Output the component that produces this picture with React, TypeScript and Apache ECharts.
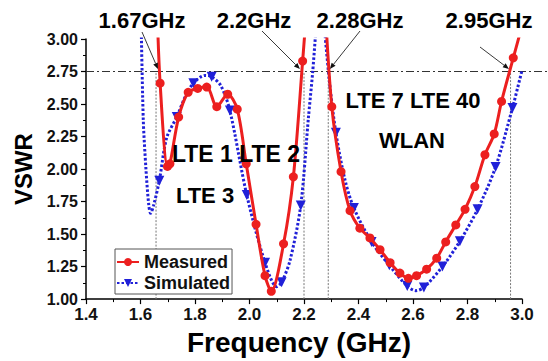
import { useEffect, useRef } from "react";
import * as echarts from "echarts";

const FONT = "'Liberation Sans', Arial, Helvetica, sans-serif";

// Frequency axis (GHz) and VSWR axis
const xMin = 1.4;
const xMax = 3.0;
const xInterval = 0.2;
const yMin = 1.0;
const yMax = 3.0;
const yInterval = 0.25;

// Measured VSWR (null = curve leaves the plot above 3.0)
const measuredFreq = [
  1.660, 1.672, 1.699, 1.708, 1.740, 1.775, 1.810, 1.843, 1.880, 1.920, 1.955, 1.988,
  2.024, 2.057, 2.080, 2.125, 2.161, 2.195, 2.212, 2.240, 2.276, 2.302, 2.336, 2.369,
  2.405, 2.442, 2.479, 2.516, 2.552, 2.583, 2.613, 2.650, 2.687, 2.720, 2.757, 2.791,
  2.827, 2.864, 2.898, 2.925, 2.968, 3.000,
];
const measuredVswr: (number | null)[] = [
  3.30, 2.66, 2.02, 2.04, 2.40, 2.59, 2.62, 2.63, 2.48, 2.575, 2.46, 2.04,
  1.575, 1.18, 1.06, 1.425, 1.94, 2.83, 3.30, null, 3.30, 2.48, 1.98, 1.68,
  1.545, 1.47, 1.38, 1.28, 1.20, 1.16, 1.18, 1.23, 1.315, 1.44, 1.57, 1.69,
  1.865, 2.11, 2.27, 2.52, 2.855, 3.10,
];

// Simulated VSWR; simulatedMarker = 1 where a triangle marker is drawn
const simulatedFreq = [
  1.600, 1.610, 1.620, 1.630, 1.637, 1.648, 1.669, 1.696, 1.733, 1.765, 1.794, 1.837,
  1.861, 1.895, 1.928, 1.990, 2.057, 2.100, 2.118, 2.149, 2.188, 2.216, 2.232, 2.248,
  2.255, 2.266, 2.293, 2.317, 2.350, 2.383, 2.448, 2.513, 2.579, 2.610, 2.640, 2.708,
  2.772, 2.837, 2.903, 2.965, 3.000,
];
const simulatedVswr: (number | null)[] = [
  3.40, 2.39, 2.00, 1.73, 1.66, 1.72, 1.91, 2.24, 2.40, 2.56, 2.66, 2.72,
  2.71, 2.64, 2.45, 1.80, 1.28, 1.095, 1.13, 1.30, 1.72, 2.39, 2.75, 3.20,
  null, 3.30, 2.68, 2.28, 1.92, 1.70, 1.44, 1.26, 1.10, 1.065, 1.09, 1.25,
  1.445, 1.69, 2.015, 2.47, 2.76,
];
const simulatedMarker = [
  0, 0, 0, 0, 0, 0, 1, 0, 1, 0, 1, 0,
  1, 0, 1, 1, 1, 0, 1, 0, 1, 0, 0, 0,
  0, 0, 0, 1, 0, 1, 1, 1, 1, 0, 1, 1,
  1, 1, 1, 1, 0,
];

// Reference threshold and band edges
const threshold = 2.75;
const bandEdges = [1.657, 2.2, 2.289, 2.958];
const edgeLabels = ["1.67GHz", "2.2GHz", "2.28GHz", "2.95GHz"];
const arrowTipFreq = [1.664, 2.185, 2.295, 2.952];
const bandLabels = ["LTE 1 LTE 2", "LTE 3", "LTE 7 LTE 40", "WLAN"];

const RED = "#ec1f1f";
const BLUE = "#2020d8";

export default function App() {
  const ref = useRef<HTMLDivElement>(null);

  useEffect(() => {
    document.body.style.margin = "0";
    if (!ref.current) return;
    const chart = echarts.init(ref.current, null, { renderer: "svg" });

    const measuredData = measuredFreq.map((f, i) => [f, measuredVswr[i]]);
    const simulatedData = simulatedFreq.map((f, i) => ({
      value: [f, simulatedVswr[i]],
      symbol: simulatedMarker[i] ? "triangle" : "none",
    }));

    const axisLabelStyle = {
      fontFamily: FONT,
      fontWeight: "bold" as const,
      color: "#111",
    };

    chart.setOption({
      animation: false,
      backgroundColor: "#fff",
      grid: { left: 86, right: 26, top: 39, bottom: 55, containLabel: false },
      legend: {
        data: ["Measured", "Simulated"],
        orient: "vertical",
        left: 115,
        top: 249,
        itemWidth: 22,
        itemHeight: 10,
        itemGap: 3,
        padding: [4, 2, 2, 1],
        borderColor: "#555",
        borderWidth: 1,
        backgroundColor: "#fff",
        textStyle: { ...axisLabelStyle, fontSize: 18 },
      },
      xAxis: {
        type: "value",
        min: xMin,
        max: xMax,
        interval: xInterval,
        name: "Frequency (GHz)",
        nameLocation: "middle",
        nameGap: 20,
        nameTextStyle: { ...axisLabelStyle, fontSize: 28, color: "#000", padding: [0, 10, 0, 0] },
        axisLine: { show: true, lineStyle: { color: "#000", width: 1.5 } },
        axisTick: { show: true, inside: false, length: 5, lineStyle: { color: "#000", width: 1.2 } },
        minorTick: { show: true, splitNumber: 2, length: 3, lineStyle: { color: "#000", width: 1 } },
        splitLine: { show: false },
        axisLabel: {
          ...axisLabelStyle,
          fontSize: 17,
          margin: 7,
          formatter: (v: number) => v.toFixed(1),
        },
      },
      yAxis: {
        type: "value",
        min: yMin,
        max: yMax,
        interval: yInterval,
        name: "VSWR",
        nameLocation: "middle",
        nameGap: 50,
        nameTextStyle: { ...axisLabelStyle, fontSize: 24, color: "#000" },
        axisLine: { show: true, lineStyle: { color: "#000", width: 1.5 } },
        axisTick: { show: true, inside: false, length: 5, lineStyle: { color: "#000", width: 1.2 } },
        minorTick: { show: true, splitNumber: 2, length: 3, lineStyle: { color: "#000", width: 1 } },
        splitLine: { show: false },
        axisLabel: {
          ...axisLabelStyle,
          fontSize: 16,
          margin: 8,
          formatter: (v: number) => v.toFixed(2),
        },
      },
      series: [
        {
          name: "Measured",
          type: "line",
          data: measuredData,
          smooth: 0.3,
          connectNulls: false,
          clip: true,
          symbol: "circle",
          symbolSize: 9,
          showSymbol: true,
          itemStyle: { color: RED },
          lineStyle: { color: RED, width: 3 },
          z: 4,
        },
        {
          name: "Simulated",
          type: "line",
          data: simulatedData,
          smooth: 0.3,
          connectNulls: false,
          clip: true,
          symbol: "triangle",
          symbolRotate: 180,
          symbolSize: 10,
          showSymbol: true,
          itemStyle: { color: BLUE },
          lineStyle: { color: BLUE, width: 3, type: [2.5, 2] },
          z: 3,
        },
      ],
    });

    const p = (f: number, v: number) =>
      chart.convertToPixel({ gridIndex: 0 }, [f, v]) as number[];

    const graphics: any[] = [];

    // vertical band edge lines
    bandEdges.forEach((f) => {
      const a = p(f, yMin);
      const b = p(f, threshold);
      graphics.push({
        type: "line",
        silent: true,
        z: 1,
        shape: { x1: a[0], y1: a[1], x2: b[0], y2: b[1] },
        style: { stroke: "#777", lineWidth: 1, lineDash: [2, 1.5] },
      });
    });

    // threshold dash-dot line
    const t0 = p(xMin, threshold);
    graphics.push({
      type: "line",
      silent: true,
      z: 1,
      shape: { x1: t0[0], y1: t0[1], x2: 547, y2: t0[1] },
      style: { stroke: "#333", lineWidth: 1.2, lineDash: [8, 3, 2, 3] },
    });

    // annotation labels & arrows
    const labelCenters = [
      [142, 20],
      [254, 20],
      [360, 20],
      [489, 20],
    ];
    const arrowTails = [
      [142, 32],
      [262, 31],
      [360, 31],
      [480, 47],
    ];
    edgeLabels.forEach((txt, i) => {
      graphics.push({
        type: "text",
        z: 10,
        x: labelCenters[i][0],
        y: labelCenters[i][1],
        style: {
          text: txt,
          fill: "#000",
          font: `bold 22px ${FONT}`,
          align: "center",
          verticalAlign: "middle",
        },
      });
      const tip = p(arrowTipFreq[i], threshold + 0.02);
      const tail = arrowTails[i];
      const dx = tip[0] - tail[0];
      const dy = tip[1] - tail[1];
      const len = Math.hypot(dx, dy);
      const ux = dx / len;
      const uy = dy / len;
      const L = 6;
      const W = 2.5;
      const bx = tip[0] - ux * L;
      const by = tip[1] - uy * L;
      graphics.push({
        type: "line",
        z: 10,
        silent: true,
        shape: { x1: tail[0], y1: tail[1], x2: bx, y2: by },
        style: { stroke: "#222", lineWidth: 0.9 },
      });
      graphics.push({
        type: "polygon",
        z: 10,
        silent: true,
        shape: {
          points: [
            [tip[0], tip[1]],
            [bx - uy * W, by + ux * W],
            [bx + uy * W, by - ux * W],
          ],
        },
        style: { fill: "#111" },
      });
    });

    // band labels
    const bandCenters = [
      [236, 154],
      [205, 195],
      [413, 100],
      [412, 140],
    ];
    bandLabels.forEach((txt, i) => {
      graphics.push({
        type: "text",
        z: 10,
        x: bandCenters[i][0],
        y: bandCenters[i][1],
        style: {
          text: txt,
          fill: "#000",
          font: `bold ${i === 0 ? 23 : 22}px ${FONT}`,
          align: "center",
          verticalAlign: "middle",
        },
      });
    });

    chart.setOption({ graphic: graphics });

    return () => {
      chart.dispose();
    };
  }, []);

  return (
    <div
      ref={ref}
      style={{ position: "fixed", left: 0, top: 0, width: 548, height: 361 }}
    />
  );
}
